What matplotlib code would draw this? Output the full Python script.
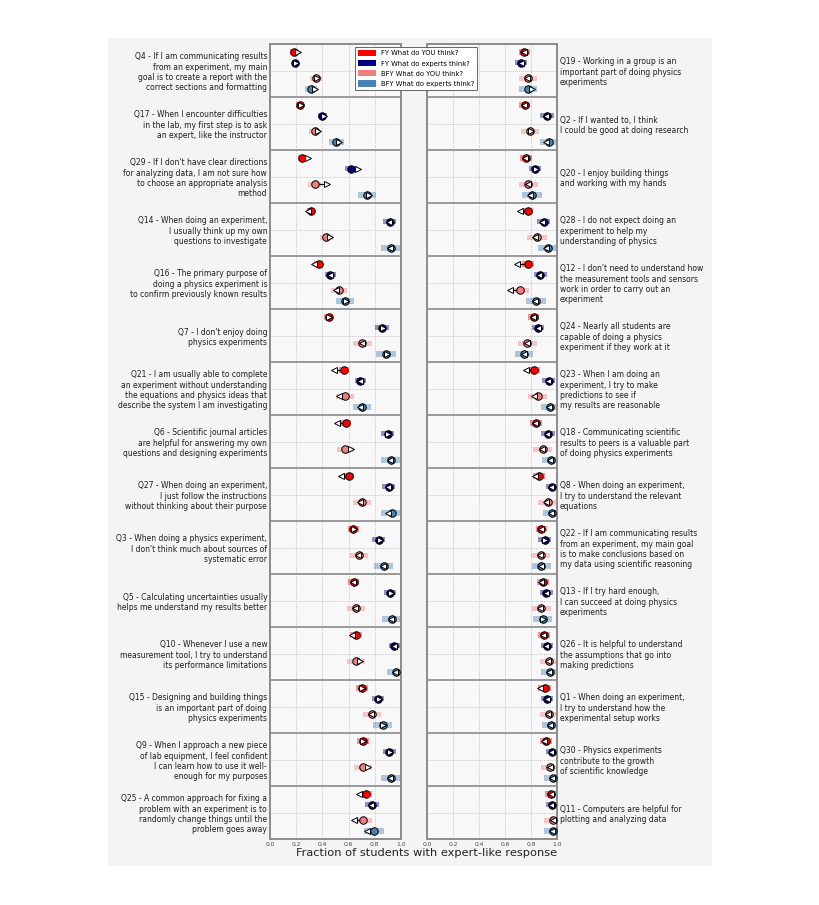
import matplotlib
matplotlib.use("Agg")
import matplotlib.pyplot as plt
from matplotlib.patches import Patch, Rectangle

# ---------------- data ----------------
left_questions = [
    "Q4 - If I am communicating results\nfrom an experiment, my main\ngoal is to create a report with the\ncorrect sections and formatting",
    "Q17 - When I encounter difficulties\nin the lab, my first step is to ask\nan expert, like the instructor",
    "Q29 - If I don't have clear directions\nfor analyzing data, I am not sure how\nto choose an appropriate analysis\nmethod",
    "Q14 - When doing an experiment,\nI usually think up my own\nquestions to investigate",
    "Q16 - The primary purpose of\ndoing a physics experiment is\nto confirm previously known results",
    "Q7 - I don't enjoy doing\nphysics experiments",
    "Q21 - I am usually able to complete\nan experiment without understanding\nthe equations and physics ideas that\ndescribe the system I am investigating",
    "Q6 - Scientific journal articles\nare helpful for answering my own\nquestions and designing experiments",
    "Q27 - When doing an experiment,\nI just follow the instructions\nwithout thinking about their purpose",
    "Q3 - When doing a physics experiment,\nI don't think much about sources of\nsystematic error",
    "Q5 - Calculating uncertainties usually\nhelps me understand my results better",
    "Q10 - Whenever I use a new\nmeasurement tool, I try to understand\nits performance limitations",
    "Q15 - Designing and building things\nis an important part of doing\nphysics experiments",
    "Q9 - When I approach a new piece\nof lab equipment, I feel confident\nI can learn how to use it well-\nenough for my purposes",
    "Q25 - A common approach for fixing a\nproblem with an experiment is to\nrandomly change things until the\nproblem goes away",
]
right_questions = [
    "Q19 - Working in a group is an\nimportant part of doing physics\nexperiments",
    "Q2 - If I wanted to, I think\nI could be good at doing research",
    "Q20 - I enjoy building things\nand working with my hands",
    "Q28 - I do not expect doing an\nexperiment to help my\nunderstanding of physics",
    "Q12 - I don't need to understand how\nthe measurement tools and sensors\nwork in order to carry out an\nexperiment",
    "Q24 - Nearly all students are\ncapable of doing a physics\nexperiment if they work at it",
    "Q23 - When I am doing an\nexperiment, I try to make\npredictions to see if\nmy results are reasonable",
    "Q18 - Communicating scientific\nresults to peers is a valuable part\nof doing physics experiments",
    "Q8 - When doing an experiment,\nI try to understand the relevant\nequations",
    "Q22 - If I am communicating results\nfrom an experiment, my main goal\nis to make conclusions based on\nmy data using scientific reasoning",
    "Q13 - If I try hard enough,\nI can succeed at doing physics\nexperiments",
    "Q26 - It is helpful to understand\nthe assumptions that go into\nmaking predictions",
    "Q1 - When doing an experiment,\nI try to understand how the\nexperimental setup works",
    "Q30 - Physics experiments\ncontribute to the growth\nof scientific knowledge",
    "Q11 - Computers are helpful for\nplotting and analyzing data",
]

series_labels = ["FY What do YOU think?", "FY What do experts think?",
                 "BFY What do YOU think?", "BFY What do experts think?"]

# values: first 15 = left panel, last 15 = right panel (same order as questions)
fy_you_point = [0.185, 0.23, 0.246, 0.315, 0.372, 0.449, 0.564, 0.577, 0.60, 0.636, 0.641, 0.654, 0.70, 0.71, 0.736,
                0.749, 0.75, 0.76, 0.774, 0.777, 0.82, 0.826, 0.84, 0.864, 0.88, 0.89, 0.897, 0.905, 0.915, 0.956]
fy_you_arrow = [0.21, 0.235, 0.29, 0.29, 0.333, 0.454, 0.49, 0.513, 0.54, 0.644, 0.633, 0.623, 0.705, 0.713, 0.68,
                0.745, 0.745, 0.755, 0.718, 0.69, 0.815, 0.76, 0.833, 0.828, 0.877, 0.877, 0.892, 0.872, 0.903, 0.95]
fy_you_ci = [0.03, 0.03, 0.032, 0.032, 0.035, 0.035, 0.041, 0.042, 0.042, 0.044, 0.042, 0.045, 0.045, 0.045, 0.045,
             0.045, 0.042, 0.045, 0.045, 0.045, 0.045, 0.045, 0.045, 0.045, 0.045, 0.047, 0.046, 0.049, 0.047, 0.045]

fy_exp_point = [0.19, 0.40, 0.62, 0.915, 0.46, 0.854, 0.69, 0.897, 0.905, 0.83, 0.918, 0.95, 0.826, 0.91, 0.78,
                0.723, 0.923, 0.833, 0.897, 0.872, 0.854, 0.936, 0.93, 0.962, 0.905, 0.918, 0.923, 0.926, 0.962, 0.962]
fy_exp_arrow = [0.195, 0.41, 0.675, 0.91, 0.456, 0.86, 0.685, 0.90, 0.90, 0.84, 0.923, 0.944, 0.833, 0.918, 0.774,
                0.72, 0.918, 0.84, 0.885, 0.86, 0.85, 0.93, 0.925, 0.957, 0.907, 0.915, 0.918, 0.92, 0.957, 0.957]
fy_exp_ci = [0.025, 0.032, 0.045, 0.049, 0.041, 0.051, 0.044, 0.051, 0.049, 0.049, 0.047, 0.044, 0.047, 0.049, 0.051,
             0.049, 0.051, 0.046, 0.051, 0.049, 0.049, 0.051, 0.051, 0.045, 0.049, 0.05, 0.049, 0.047, 0.045, 0.045]

bfy_you_point = [0.35, 0.34, 0.34, 0.43, 0.526, 0.705, 0.57, 0.572, 0.70, 0.68, 0.654, 0.66, 0.777, 0.71, 0.713,
                 0.774, 0.79, 0.78, 0.846, 0.718, 0.772, 0.85, 0.892, 0.928, 0.874, 0.877, 0.936, 0.936, 0.949, 0.97]
bfy_you_arrow = [0.36, 0.37, 0.435, 0.46, 0.505, 0.70, 0.53, 0.615, 0.69, 0.67, 0.65, 0.685, 0.77, 0.75, 0.64,
                 0.77, 0.80, 0.777, 0.833, 0.64, 0.77, 0.82, 0.888, 0.918, 0.87, 0.872, 0.93, 0.93, 0.944, 0.968]
bfy_you_ci = [0.047, 0.045, 0.047, 0.051, 0.058, 0.07, 0.068, 0.063, 0.07, 0.07, 0.069, 0.069, 0.07, 0.07, 0.064,
              0.07, 0.069, 0.073, 0.077, 0.069, 0.073, 0.074, 0.073, 0.075, 0.073, 0.073, 0.07, 0.07, 0.07, 0.07]

bfy_exp_point = [0.315, 0.505, 0.74, 0.923, 0.57, 0.885, 0.70, 0.923, 0.928, 0.867, 0.928, 0.962, 0.86, 0.923, 0.795,
                 0.774, 0.936, 0.808, 0.93, 0.84, 0.749, 0.944, 0.951, 0.962, 0.88, 0.89, 0.949, 0.951, 0.967, 0.97]
bfy_exp_arrow = [0.345, 0.53, 0.755, 0.915, 0.577, 0.89, 0.69, 0.918, 0.90, 0.865, 0.923, 0.956, 0.864, 0.918, 0.744,
                 0.81, 0.918, 0.795, 0.915, 0.833, 0.745, 0.94, 0.946, 0.957, 0.877, 0.892, 0.94, 0.946, 0.962, 0.965]
bfy_exp_ci = [0.045, 0.058, 0.068, 0.077, 0.068, 0.076, 0.07, 0.077, 0.077, 0.074, 0.074, 0.07, 0.074, 0.077, 0.077,
              0.07, 0.07, 0.076, 0.077, 0.076, 0.07, 0.07, 0.07, 0.07, 0.074, 0.073, 0.07, 0.07, 0.07, 0.07]

xticks = [0.0, 0.2, 0.4, 0.6, 0.8, 1.0]
xtick_labels = ["0.0", "0.2", "0.4", "0.6", "0.8", "1.0"]
xlabel = "Fraction of students with expert-like response"

# ---------------- style ----------------
colors = ["#ff0000", "#000080", "#f08080", "#4682b4"]
row_offsets = [0.15, 0.35, 0.65, 0.85]
series = [
    (fy_you_point, fy_you_arrow, fy_you_ci),
    (fy_exp_point, fy_exp_arrow, fy_exp_ci),
    (bfy_you_point, bfy_you_arrow, bfy_you_ci),
    (bfy_exp_point, bfy_exp_arrow, bfy_exp_ci),
]

W, H = 820, 905
fig = plt.figure(figsize=(W / 100, H / 100), dpi=100, facecolor="white")
fig.patches.append(Rectangle((108 / W, 1 - 866 / H), (712 - 108) / W, (866 - 38) / H,
                             transform=fig.transFigure, facecolor="#f4f4f4",
                             edgecolor="none", zorder=-10))

bottom = 1 - 839 / H
height = (839 - 44) / H
ax_l = fig.add_axes([270 / W, bottom, 131 / W, height])
ax_r = fig.add_axes([427 / W, bottom, 130 / W, height])

n = 15
for ax, questions, start, side in [(ax_l, left_questions, 0, "left"),
                                   (ax_r, right_questions, 15, "right")]:
    ax.set_facecolor("#f8f8f8")
    for g in range(n):
        idx = start + g
        for s, (pt, ar, ci) in enumerate(series):
            y = g + row_offsets[s]
            p, a, c = pt[idx], ar[idx], ci[idx]
            ax.barh(y, 2 * c, left=p - c, height=0.11, color=colors[s],
                    alpha=0.42, linewidth=0, zorder=2)
            ax.plot([p, a], [y, y], color="black", lw=0.9, zorder=3,
                    solid_capstyle="butt")
            ax.plot(p, y, marker="o", ms=5.4, mfc=colors[s], mec="black",
                    mew=0.7, zorder=4, ls="none")
            ax.plot(a, y, marker=">" if a >= p else "<", ms=4.8, mfc="white",
                    mec="black", mew=0.7, zorder=5, ls="none")
    # group separators
    for g in range(1, n):
        ax.axhline(g, color="#9a9a9a", lw=1.4, zorder=1)
    ax.set_xlim(0, 1)
    ax.set_ylim(n, 0)
    ax.set_xticks(xticks)
    ax.set_xticklabels(xtick_labels, fontsize=4.3, color="#444444")
    ax.set_yticks([g + 0.5 for g in range(n)])
    ax.set_yticklabels(questions, fontsize=5.5, color="#1e1e1e")
    ax.tick_params(axis="both", length=0, pad=2)
    ax.grid(True, which="major", axis="both", ls=(0, (1, 1.5)), color="#b5b5b5",
            lw=0.6, zorder=0)
    ax.set_axisbelow(True)
    for sp in ax.spines.values():
        sp.set_color("#8c8c8c")
        sp.set_linewidth(1.4)
    if side == "right":
        ax.yaxis.tick_right()
        ax.tick_params(axis="y", length=0, pad=2)

fig.text(427 / W, 1 - 853 / H, xlabel, ha="center", va="center", fontsize=8.2,
         color="#222222")

handles = [Patch(facecolor=c, edgecolor="none") for c in colors]
leg = fig.legend(handles, series_labels, loc="upper left",
                 bbox_to_anchor=(355 / W, 1 - 47 / H), bbox_transform=fig.transFigure,
                 fontsize=4.9, frameon=True, fancybox=False, handlelength=2.6,
                 handleheight=1.0, labelspacing=0.55, borderpad=0.45,
                 handletextpad=0.7, borderaxespad=0)
leg.get_frame().set_edgecolor("#666666")
leg.get_frame().set_linewidth(0.7)
leg.get_frame().set_facecolor("white")
leg.get_frame().set_alpha(1)

fig.savefig("out.png", dpi=100, facecolor=fig.get_facecolor())
